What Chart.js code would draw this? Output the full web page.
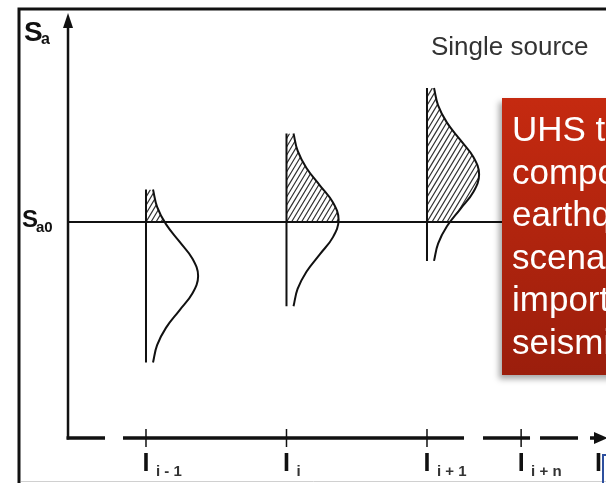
<!DOCTYPE html>
<html>
<head>
<meta charset="utf-8">
<script src="https://cdn.jsdelivr.net/npm/chart.js@4.4.1/dist/chart.umd.min.js"></script>
<style>
  html, body { margin: 0; padding: 0; background: #fff; overflow: hidden; }
  #wrap { position: relative; width: 606px; height: 483px; overflow: hidden; }
  #chart { position: absolute; left: 0; top: 0; }
  #note {
    position: absolute; left: 502px; top: 98px; width: 220px; height: 277px;
    box-sizing: border-box; padding: 10px 0 0 10px;
    background: linear-gradient(#c52a10, #9b1e0c);
    color: #fff; font: 35px/42.6px "Liberation Sans", Arial, sans-serif;
    box-shadow: -3px 4px 6px rgba(0,0,0,0.35); white-space: nowrap;
  }
  #corner { position: absolute; left: 602px; top: 454px; width: 30px; height: 40px; border: 2px solid #2d4f9e; }
</style>
</head>
<body>
<div id="wrap">
  <canvas id="chart" width="606" height="483"></canvas>
  <div id="note">UHS too<br>compound<br>earthquake<br>scenarios<br>importance<br>seismic</div>
  <div id="corner"></div>
</div>
<script>
// Axe des intensités (positions en unités d'intensité)
const intensityPos = [1, 2, 3, 3.67, 4.22];
const intensityLabels = ['i - 1', 'i', 'i + 1', 'i + n', ''];

// Niveau Sa0 et distributions (une par intensité)
const sa0 = 5.0;
const distPos = [1, 2, 3];
const distMean = [3.75, 5.05, 6.1];
// échantillons de la courbe : écart en Sa par rapport à la moyenne, largeur de densité
const offsetSa = [2.0, 1.6, 1.2, 0.8, 0.4, 0, -0.4, -0.8, -1.2, -1.6, -2.0];
const density = [0.05, 0.079, 0.142, 0.237, 0.331, 0.371, 0.331, 0.237, 0.142, 0.079, 0.05];

const axisOriginX = 0.445;
const yAxisTop = 9.84;
const xMin = -0.0391, xMax = 4.2741;
const yMin = -1.0417, yMax = 10.1389;

const FONT = '"Liberation Sans", Arial, sans-serif';

const datasets = [];
datasets.push({
  data: [{x: axisOriginX, y: sa0}, {x: xMax, y: sa0}],
  borderWidth: 2
});
const curveIndex = [];
distPos.forEach((p, i) => {
  datasets.push({
    data: [{x: p, y: distMean[i] + offsetSa[0]}, {x: p, y: distMean[i] + offsetSa[offsetSa.length - 1]}],
    borderWidth: 2
  });
  curveIndex.push(datasets.length);
  datasets.push({
    data: offsetSa.map((o, k) => ({x: p + density[k], y: distMean[i] + o})),
    borderWidth: 2,
    tension: 0.4
  });
});
datasets.forEach(d => {
  d.showLine = true;
  d.pointRadius = 0;
  d.borderColor = '#111';
  d.fill = false;
});

const diagramPlugin = {
  id: 'diagram',
  beforeDraw(chart) {
    const {ctx, width, height} = chart;
    ctx.save();
    ctx.fillStyle = '#fff';
    ctx.fillRect(0, 0, width, height);
    ctx.strokeStyle = '#111';
    ctx.lineWidth = 3;
    ctx.beginPath();
    ctx.moveTo(19, height);
    ctx.lineTo(19, 9);
    ctx.lineTo(width, 9);
    ctx.stroke();
    ctx.strokeStyle = '#d0d0d0';
    ctx.lineWidth = 1;
    ctx.beginPath();
    ctx.moveTo(21, 481.5);
    ctx.lineTo(width, 481.5);
    ctx.stroke();
    ctx.restore();
  },
  beforeDatasetsDraw(chart) {
    // hachures au-dessus de Sa0
    const {ctx} = chart;
    const x = chart.scales.x, y = chart.scales.y;
    const sa0Px = y.getPixelForValue(sa0);
    distPos.forEach((p, i) => {
      const meta = chart.getDatasetMeta(curveIndex[i]);
      const linePx = x.getPixelForValue(p);
      const topPx = y.getPixelForValue(distMean[i] + offsetSa[0]);
      const botPx = y.getPixelForValue(distMean[i] + offsetSa[offsetSa.length - 1]);
      ctx.save();
      ctx.beginPath();
      ctx.rect(linePx, 0, 200, sa0Px);
      ctx.clip();
      ctx.beginPath();
      if (meta.dataset && typeof meta.dataset.path === 'function') {
        meta.dataset.path(ctx);
      } else {
        meta.data.forEach((pt, k) => k ? ctx.lineTo(pt.x, pt.y) : ctx.moveTo(pt.x, pt.y));
      }
      ctx.lineTo(linePx, botPx);
      ctx.lineTo(linePx, topPx);
      ctx.closePath();
      ctx.clip();
      ctx.strokeStyle = '#333';
      ctx.lineWidth = 1.2;
      ctx.beginPath();
      const h = sa0Px - topPx;
      for (let k = -60; k < 40; k++) {
        const bx = linePx + k * 5;
        ctx.moveTo(bx, sa0Px);
        ctx.lineTo(bx + h * 0.6, topPx);
      }
      ctx.stroke();
      ctx.restore();
    });
  },
  afterDatasetsDraw(chart) {
    const {ctx, width} = chart;
    const x = chart.scales.x, y = chart.scales.y;
    const ox = x.getPixelForValue(axisOriginX);
    const oy = y.getPixelForValue(0);
    const ty = y.getPixelForValue(yAxisTop);
    ctx.save();
    ctx.strokeStyle = '#111';
    ctx.fillStyle = '#111';

    // axe vertical + flèche
    ctx.lineWidth = 2.5;
    ctx.beginPath();
    ctx.moveTo(ox, oy + 1.5);
    ctx.lineTo(ox, ty + 10);
    ctx.stroke();
    ctx.beginPath();
    ctx.moveTo(ox, ty);
    ctx.lineTo(ox - 5, ty + 15);
    ctx.lineTo(ox + 5, ty + 15);
    ctx.closePath();
    ctx.fill();

    // axe horizontal en tirets + flèche
    ctx.lineWidth = 3.5;
    ctx.setLineDash([38.5, 18, 341, 19, 47, 10, 38, 12, 40]);
    ctx.beginPath();
    ctx.moveTo(ox - 1.5, oy);
    ctx.lineTo(width - 10, oy);
    ctx.stroke();
    ctx.setLineDash([]);
    ctx.beginPath();
    ctx.moveTo(594, oy - 6);
    ctx.lineTo(608, oy);
    ctx.lineTo(594, oy + 6);
    ctx.closePath();
    ctx.fill();

    // graduations et étiquettes
    intensityPos.forEach((p, i) => {
      const px = x.getPixelForValue(p);
      if (intensityLabels[i]) {
        ctx.lineWidth = 1.5;
        ctx.beginPath();
        ctx.moveTo(px, oy - 9);
        ctx.lineTo(px, oy + 9);
        ctx.stroke();
      }
      ctx.fillStyle = '#111';
      ctx.font = 'bold 25px ' + FONT;
      ctx.textAlign = 'center';
      ctx.fillText('I', px, 471);
      ctx.fillStyle = '#333';
      ctx.font = 'bold 15px ' + FONT;
      ctx.textAlign = 'left';
      ctx.fillText(intensityLabels[i], px + 10, 476);
    });

    // Sa et Sa0
    const sa0Px = y.getPixelForValue(sa0);
    ctx.fillStyle = '#111';
    ctx.textAlign = 'left';
    ctx.font = 'bold 28px ' + FONT;
    ctx.fillText('S', 24, 41);
    ctx.font = 'bold 16px ' + FONT;
    ctx.fillText('a', 41, 44);
    ctx.font = 'bold 24px ' + FONT;
    ctx.fillText('S', 22, sa0Px + 5);
    ctx.font = 'bold 15px ' + FONT;
    ctx.fillText('a0', 36, sa0Px + 10);

    ctx.fillStyle = '#333';
    ctx.font = '26px ' + FONT;
    ctx.fillText('Single source', 431, 55);
    ctx.restore();
  }
};

new Chart(document.getElementById('chart'), {
  type: 'scatter',
  data: {datasets},
  options: {
    responsive: false,
    animation: false,
    events: [],
    layout: {padding: 0},
    plugins: {legend: {display: false}, tooltip: {enabled: false}},
    scales: {
      x: {type: 'linear', display: false, min: xMin, max: xMax},
      y: {type: 'linear', display: false, min: yMin, max: yMax}
    }
  },
  plugins: [diagramPlugin]
});
</script>
</body>
</html>
